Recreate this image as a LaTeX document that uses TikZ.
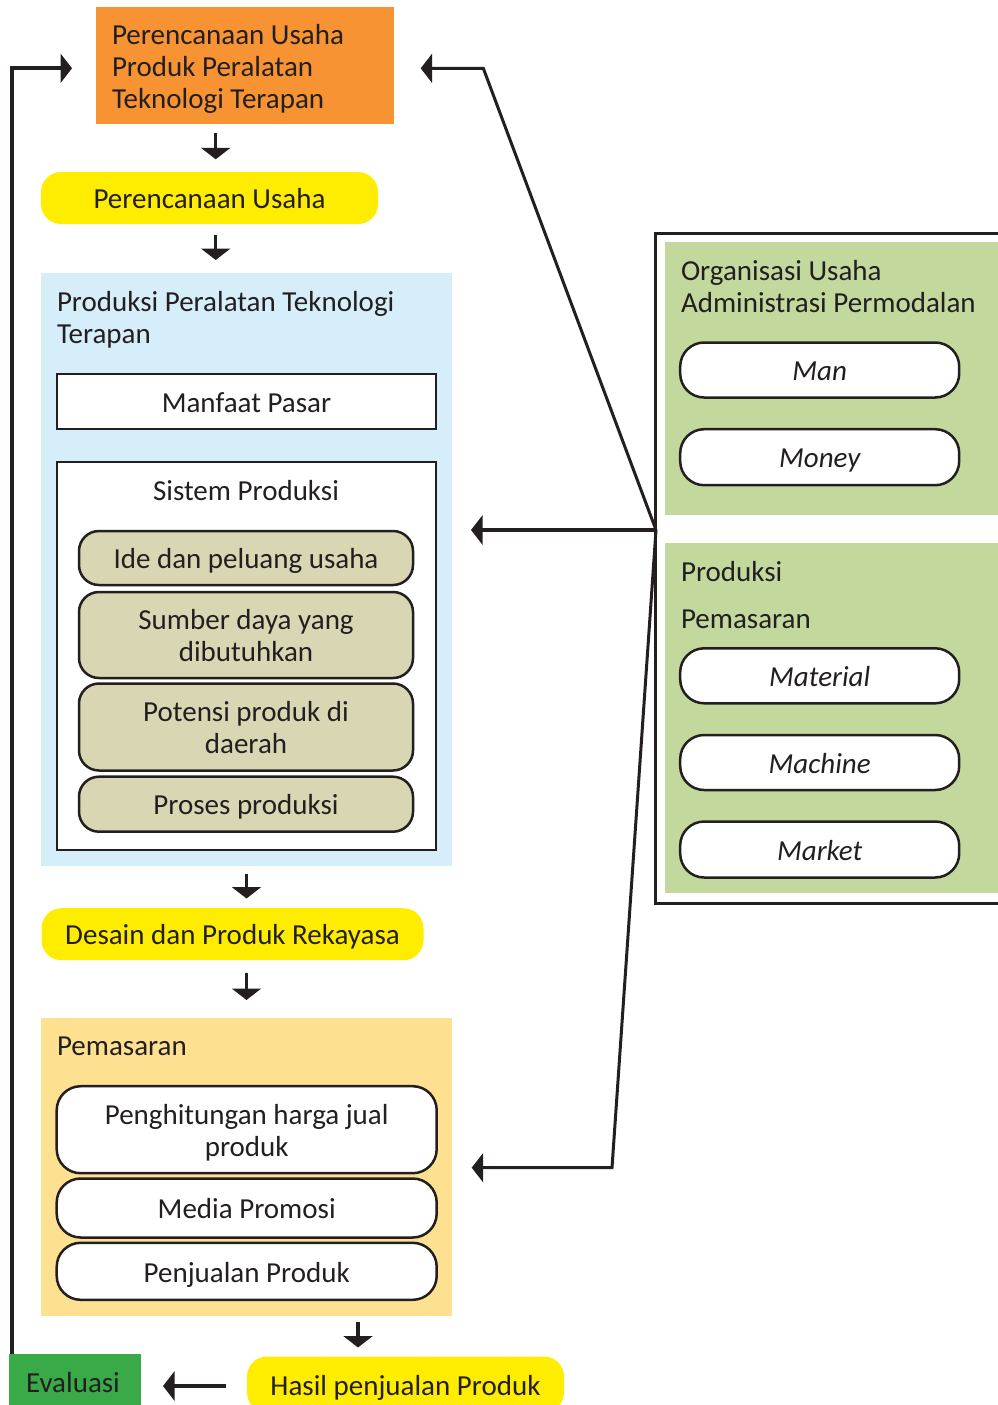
\documentclass[tikz,border=0pt]{standalone}
\usepackage{fontspec}
\setmainfont{Carlito}
\usetikzlibrary{arrows.meta}
\definecolor{txt}{RGB}{35,31,32}
\definecolor{orangeA}{RGB}{247,147,51}
\definecolor{yellowA}{RGB}{255,237,0}
\definecolor{blueA}{RGB}{214,237,250}
\definecolor{khakiA}{RGB}{217,215,179}
\definecolor{peachA}{RGB}{253,224,144}
\definecolor{greenA}{RGB}{194,216,156}
\definecolor{greenB}{RGB}{58,170,73}
\newcommand\fsz{\fontsize{29}{32}\selectfont}
\newcommand\Tst{\rule{0pt}{29pt}}
\newcommand\Bst{\rule[-7.5pt]{0pt}{7.5pt}}
\begin{document}
\begin{tikzpicture}[x=1pt,y=-1pt,
  bx/.style={inner sep=0pt, outer sep=0pt, font=\fsz, text=txt},
  pnl/.style={bx, draw=none},
  yelbox/.style={bx, fill=yellowA, rounded corners=20pt},
  khbox/.style={bx, fill=khakiA, draw=txt, line width=2.5pt, rounded corners=20pt, align=center},
  whbox/.style={bx, fill=white, draw=txt, line width=2.5pt, rounded corners=24pt, align=center},
  sqbox/.style={bx, fill=white, draw=txt, line width=2.5pt},
  ttl/.style={bx, align=left},
  arr/.style={draw=txt, line width=3.5pt, -{Triangle[length=11.5pt,width=29pt]}},
  lnk/.style={draw=txt, line width=3pt, line join=miter, -{Triangle[length=11.5pt,width=29pt]}},
]
\useasboundingbox (0,0) rectangle (998,1405);

% ---- left column ----
\node[pnl, fill=orangeA, text width=266pt, inner xsep=16pt, minimum height=117pt, align=flush left] (orange) at (245,65.5)
  {\Tst Perencanaan Usaha\\Produk Peralatan\\Teknologi Terapan\Bst};

\node[yelbox, minimum width=337pt, minimum height=52pt] (yel1) at (209.5,198) {\Tst\Bst Perencanaan Usaha};

\node[pnl, fill=blueA, minimum width=411pt, minimum height=593pt] (blue) at (246.5,569.5) {};
\node[ttl, anchor=north west] (blueT) at (57,282) {\Tst Produksi Peralatan Teknologi\\Terapan};
\node[sqbox, minimum width=379pt, minimum height=55pt] (manfaat) at (246.5,401.5) {\Tst\Bst Manfaat Pasar};
\node[sqbox, minimum width=379pt, minimum height=388pt] (sistem) at (246.5,655.8) {};
\node[bx, anchor=base] (sistemT) at (246,500) {Sistem Produksi};
\node[khbox, minimum width=334pt, minimum height=54pt] (ide) at (246,558) {\Tst\Bst Ide dan peluang usaha};
\node[khbox, minimum width=334pt, minimum height=86pt] (sumber) at (246,635) {\Tst Sumber daya yang\\dibutuhkan\Bst};
\node[khbox, minimum width=334pt, minimum height=87pt] (potensi) at (246,727) {\Tst Potensi produk di\\daerah\Bst};
\node[khbox, minimum width=334pt, minimum height=55pt] (proses) at (246,804.2) {\Tst\Bst Proses produksi};

\node[yelbox, minimum width=382pt, minimum height=52pt] (desain) at (232.5,934.2) {\Tst\Bst Desain dan Produk Rekayasa};

\node[pnl, fill=peachA, minimum width=411pt, minimum height=298pt] (peach) at (246.5,1167) {};
\node[bx, anchor=base west] (peachT) at (57,1055) {Pemasaran};
\node[whbox, minimum width=380pt, minimum height=87pt] (hitung) at (246.7,1129.7) {\Tst Penghitungan harga jual\\produk\Bst};
\node[whbox, minimum width=380pt, minimum height=59pt] (media) at (246.7,1208) {\Tst\Bst Media Promosi};
\node[whbox, minimum width=380pt, minimum height=57pt] (jual) at (246.7,1271.3) {\Tst\Bst Penjualan Produk};

\node[yelbox, minimum width=317pt, minimum height=56pt] (hasil) at (405.5,1384.5) {\Tst\Bst Hasil penjualan Produk};
\node[pnl, fill=greenB, minimum width=132pt, minimum height=56pt] (eval) at (75,1382) {\Tst\Bst Evaluasi\hspace*{4pt}};

% ---- right panel ----
\node[bx, draw=txt, line width=3pt, minimum width=357pt, minimum height=670pt] (rpanel) at (833.5,568) {};
\node[pnl, fill=greenA, minimum width=333pt, minimum height=273pt] (g1) at (831.5,378.5) {};
\node[ttl, anchor=north west] (g1T) at (681,251.7) {\Tst Organisasi Usaha\\Administrasi Permodalan};
\node[whbox, minimum width=279pt, minimum height=55pt, font=\fsz\itshape] (man) at (819.7,370) {\Tst\Bst Man};
\node[whbox, minimum width=279pt, minimum height=56pt, font=\fsz\itshape] (money) at (819.7,457.2) {\Tst\Bst Money};
\node[pnl, fill=greenA, minimum width=333pt, minimum height=350pt] (g2) at (831.5,718.3) {};
\node[bx, anchor=base west] (g2T1) at (681,581.7) {Produksi};
\node[bx, anchor=base west] (g2T2) at (681,628.3) {Pemasaran};
\node[whbox, minimum width=279pt, minimum height=55pt, font=\fsz\itshape] (material) at (819.7,675.8) {\Tst\Bst Material};
\node[whbox, minimum width=279pt, minimum height=55pt, font=\fsz\itshape] (machine) at (819.7,762.5) {\Tst\Bst Machine};
\node[whbox, minimum width=279pt, minimum height=56pt, font=\fsz\itshape] (market) at (819.7,849.5) {\Tst\Bst Market};

% ---- connectors ----
\coordinate (cA) at (215.7,0);
\coordinate (cB) at (246.5,0);
\coordinate (cC) at (358,0);
\coordinate (cD) at (0,1386);
\coordinate (cL) at (11.5,0);
\coordinate (cT) at (0,68.3);
\coordinate (J) at (656,530);
\coordinate (K1) at (483.3,68.3);
\coordinate (K2) at (612,1167.7);

\draw[arr, shorten <=9.3pt, shorten >=12.7pt] (orange.south -| cA) -- (yel1.north -| cA);
\draw[arr, shorten <=11pt, shorten >=13pt] (yel1.south -| cA) -- (blue.north -| cA);
\draw[arr, shorten <=7.5pt, shorten >=9.7pt] (blue.south -| cB) -- (desain.north -| cB);
\draw[arr, shorten <=13pt, shorten >=18pt] (desain.south -| cB) -- (peach.north -| cB);
\draw[arr, shorten <=6pt, shorten >=9pt] (peach.south -| cC) -- (hasil.north -| cC);
\draw[arr, shorten <=21pt, shorten >=22pt] (hasil.west |- cD) -- (eval.east |- cD);
\draw[arr, line width=4pt, line join=miter, shorten >=24pt] (eval.north -| cL) |- (orange.west |- cT);

\draw[lnk, shorten >=26.7pt] (J) -- (K1) -- (orange.east |- K1);
\draw[lnk, line width=3.5pt, shorten >=19pt] (J) -- (blue.east |- J);
\draw[lnk, shorten >=19.7pt] (J) -- (K2) -- (peach.east |- K2);
\end{tikzpicture}
\end{document}
